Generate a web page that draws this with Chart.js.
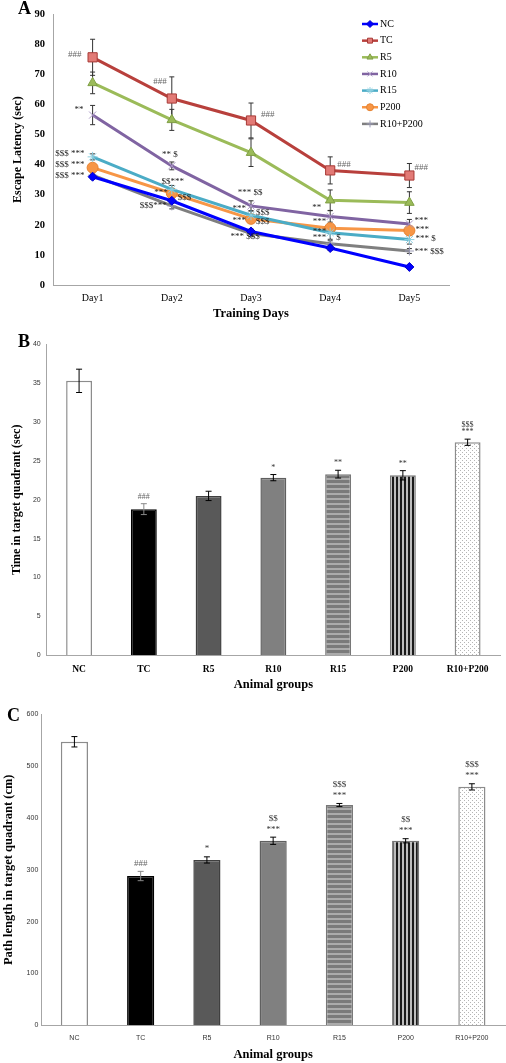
<!DOCTYPE html>
<html>
<head>
<meta charset="utf-8">
<title>Water maze results</title>
<script src="https://cdn.jsdelivr.net/npm/chart.js@4.4.1/dist/chart.umd.min.js"></script>
<style>
  body { margin: 0; background: #fff; }
  .panel { position: absolute; left: 0; }
</style>
</head>
<body>
<canvas id="chartA" class="panel" width="506" height="330" style="top:0px"></canvas>
<canvas id="chartB" class="panel" width="506" height="370" style="top:330px"></canvas>
<canvas id="chartC" class="panel" width="506" height="363" style="top:700px"></canvas>
<script>
// ---- panel A : escape latency over training days
const days = ['Day1', 'Day2', 'Day3', 'Day4', 'Day5'];
const seriesNames = ['NC', 'TC', 'R5', 'R10', 'R15', 'P200', 'R10+P200'];
const ncLat    = [36.0, 28.0, 17.8, 12.3, 6.0];
const tcLat    = [75.7, 62.0, 54.7, 38.1, 36.4];
const r5Lat    = [67.2, 54.9, 44.0, 28.2, 27.4];
const r10Lat   = [56.5, 39.6, 26.3, 22.8, 20.3];
const r15Lat   = [42.6, 31.8, 23.2, 17.4, 15.1];
const p200Lat  = [39.0, 30.5, 22.0, 18.9, 18.1];
const comboLat = [36.5, 26.3, 17.1, 13.7, 11.3];
// SEM
const ncErr    = [0.8, 0.8, 0.8, 0.8, 0.5];
const tcErr    = [6.0, 7.2, 5.8, 4.5, 4.0];
const r5Err    = [3.6, 3.5, 4.6, 3.4, 3.6];
const r10Err   = [3.2, 1.3, 1.7, 1.9, 1.5];
const r15Err   = [1.0, 1.3, 1.5, 2.2, 1.5];
const p200Err  = [1.2, 1.2, 1.2, 1.0, 1.0];
const comboErr = [0.8, 1.0, 1.0, 1.0, 0.8];
const latencyTicks = [0, 10, 20, 30, 40, 50, 60, 70, 80, 90];

// significance labels: [series, day, text, dx, dy, align]
const latencyMarks = [
  [1, 0, '###', -11, -3, 'right'],
  [3, 0, '**', -9, -5, 'right'],
  [4, 0, '$$$ ***', -8, -3, 'right'],
  [5, 0, '$$$ ***', -8, -3, 'right'],
  [6, 0, '$$$ ***', -8, 0, 'right'],
  [1, 1, '###', -5, -17, 'right'],
  [3, 1, '** $', -2, -11, 'center'],
  [4, 1, '$$***', 1, -8, 'center'],
  [5, 1, '***', -4, -1, 'right'],
  [5, 1, '$$$', 6, 4, 'left'],
  [6, 1, '$$$***', -5, 0, 'right'],
  [1, 2, '###', 10, -6, 'left'],
  [3, 2, '*** $$', -1, -13, 'center'],
  [4, 2, '***', -5, -7, 'right'],
  [4, 2, '$$$', 5, -3, 'left'],
  [5, 2, '***', -5, 2, 'right'],
  [5, 2, '$$$', 5, 3, 'left'],
  [6, 2, '*** $$$', -6, 3, 'center'],
  [1, 3, '###', 7, -6, 'left'],
  [3, 3, '**', -9, -9, 'right'],
  [5, 3, '***', -4, -7, 'right'],
  [4, 3, '***', -4, -1, 'right'],
  [6, 3, '***', -4, -6, 'right'],
  [6, 3, '$', 6, -6, 'left'],
  [1, 4, '###', 5, -8, 'left'],
  [3, 4, '***', 5, -3, 'left'],
  [5, 4, '***', 6, -1, 'left'],
  [4, 4, '*** $', 6, -1, 'left'],
  [6, 4, '*** $$$', 5, 1, 'left']
];

// ---- panels B and C : probe trial
const groups = ['NC', 'TC', 'R5', 'R10', 'R15', 'P200', 'R10+P200'];
const timeTarget = [35.3, 18.8, 20.5, 22.85, 23.3, 23.15, 27.4];
const timeErr    = [1.5, 0.7, 0.6, 0.4, 0.5, 0.6, 0.4];
const timeMarks  = [[], ['###'], [], ['*'], ['**'], ['**'], ['***', '$$$']];
const timeTicks  = [0, 5, 10, 15, 20, 25, 30, 35, 40];

const pathTarget = [547, 288, 319, 356, 425, 356, 460];
const pathErr    = [10, 9, 6, 7, 3, 4, 6];
const pathMarks  = [[], ['###'], ['*'], ['***', '$$'], ['***', '$$$'], ['***', '$$'], ['***', '$$$']];
const pathTicks  = [0, 100, 200, 300, 400, 500, 600];

const serif = '"Liberation Serif", "Times New Roman", serif';
const sans = '"Liberation Sans", Arial, sans-serif';

function panelLetter(letter, x, y) {
  return {
    id: 'letter' + letter,
    afterDraw(chart) {
      const ctx = chart.ctx;
      ctx.save();
      ctx.font = 'bold 18px ' + serif;
      ctx.fillStyle = '#000';
      ctx.textBaseline = 'alphabetic';
      ctx.fillText(letter, x, y);
      ctx.restore();
    }
  };
}

const latencyErrBars = {
  id: 'latencyErrBars',
  beforeDatasetsDraw(chart) {
    const ctx = chart.ctx;
    const ys = chart.scales.y;
    ctx.save();
    ctx.strokeStyle = '#333';
    ctx.lineWidth = 1;
    chart.data.datasets.forEach((ds, i) => {
      chart.getDatasetMeta(i).data.forEach((pt, j) => {
        const top = ys.getPixelForValue(ds.data[j] + ds.err[j]);
        const bot = ys.getPixelForValue(ds.data[j] - ds.err[j]);
        ctx.beginPath();
        ctx.moveTo(pt.x, top); ctx.lineTo(pt.x, bot);
        ctx.moveTo(pt.x - 2.5, top); ctx.lineTo(pt.x + 2.5, top);
        ctx.moveTo(pt.x - 2.5, bot); ctx.lineTo(pt.x + 2.5, bot);
        ctx.stroke();
      });
    });
    ctx.restore();
  },
  afterDatasetsDraw(chart) {
    const ctx = chart.ctx;
    ctx.save();
    ctx.font = '9px ' + serif;
    ctx.textBaseline = 'middle';
    latencyMarks.forEach(m => {
      const pt = chart.getDatasetMeta(m[0]).data[m[1]];
      ctx.fillStyle = m[2] === '###' ? '#666' : '#222';
      ctx.textAlign = m[5];
      ctx.fillText(m[2], pt.x + m[3], pt.y + m[4]);
    });
    ctx.restore();
  }
};

const legendA = {
  id: 'legendA',
  afterDraw(chart) {
    const ctx = chart.ctx;
    ctx.save();
    chart.data.datasets.forEach((ds, i) => {
      const y = 24 + i * 16.65;
      ctx.strokeStyle = ds.borderColor;
      ctx.lineWidth = 2.5;
      ctx.beginPath(); ctx.moveTo(362, y); ctx.lineTo(378, y); ctx.stroke();
      ctx.fillStyle = ds.pointBackgroundColor;
      ctx.strokeStyle = ds.pointBorderColor;
      ctx.lineWidth = 1;
      Chart.helpers.drawPoint(ctx, {pointStyle: ds.pointStyle, radius: 3.5, borderWidth: 1, rotation: 0}, 370, y);
      ctx.fillStyle = '#000';
      ctx.font = '10px ' + serif;
      ctx.textAlign = 'left';
      ctx.textBaseline = 'middle';
      ctx.fillText(ds.label, 380, y);
    });
    ctx.restore();
  }
};

function lineSet(i, data, err, color, style, fill, edge, radius) {
  return {
    label: seriesNames[i], data: data, err: err,
    borderColor: color, borderWidth: 3, tension: 0,
    pointStyle: style, pointRadius: radius, pointBackgroundColor: fill,
    pointBorderColor: edge, pointBorderWidth: 1
  };
}

new Chart(document.getElementById('chartA'), {
  type: 'line',
  data: {
    labels: days,
    datasets: [
      lineSet(0, ncLat, ncErr, '#0000FF', 'rectRot', '#0000FF', '#0000CC', 4.5),
      lineSet(1, tcLat, tcErr, '#B8403C', 'rect', '#E27A76', '#A83A36', 6.5),
      lineSet(2, r5Lat, r5Err, '#9BBB59', 'triangle', '#9BBB59', '#7F9F45', 5.5),
      lineSet(3, r10Lat, r10Err, '#8064A2', 'crossRot', '#A996C4', '#A996C4', 5),
      lineSet(4, r15Lat, r15Err, '#4BACC6', 'star', '#8DCFE0', '#8DCFE0', 5),
      lineSet(5, p200Lat, p200Err, '#F79646', 'circle', '#F79646', '#E58230', 5.5),
      lineSet(6, comboLat, comboErr, '#7F7F7F', 'cross', '#9A9AB4', '#9A9AB4', 4.5)
    ]
  },
  options: {
    responsive: false,
    animation: false,
    layout: { padding: { top: 11.7, right: 57, left: 0, bottom: 0 } },
    plugins: { legend: { display: false }, tooltip: { enabled: false } },
    scales: {
      x: {
        offset: true,
        grid: { display: false, drawTicks: false },
        border: { display: true, color: '#a6a6a6' },
        ticks: { color: '#000', font: { family: serif, size: 10 }, padding: 7 },
        title: { display: true, text: 'Training Days', color: '#000',
                 font: { family: serif, size: 12.5, weight: 'bold' }, padding: { top: 0, bottom: 9 } },
        afterFit: s => { s.height = 45; }
      },
      y: {
        min: 0, max: 90,
        afterBuildTicks: s => { s.ticks = latencyTicks.map(v => ({ value: v })); },
        grid: { display: false, drawTicks: false },
        border: { display: true, color: '#a6a6a6' },
        ticks: { color: '#000', font: { family: serif, size: 10.5, weight: 'bold' }, padding: 8 },
        title: { display: true, text: 'Escape Latency (sec)', color: '#000',
                 font: { family: serif, size: 12, weight: 'bold' }, padding: { top: 11, bottom: 0 } },
        afterFit: s => { s.width = 53; }
      }
    }
  },
  plugins: [latencyErrBars, legendA, panelLetter('A', 18, 14)]
});

// ---- bar fills
function makePattern(size, draw) {
  const c = document.createElement('canvas');
  c.width = size[0]; c.height = size[1];
  draw(c.getContext('2d'));
  return c.getContext('2d').createPattern(c, 'repeat');
}
const hStripes = makePattern([4, 5], g => {
  g.fillStyle = '#7a7a7a'; g.fillRect(0, 0, 4, 5);
  g.fillStyle = '#ababab'; g.fillRect(0, 3, 4, 2);
});
const vStripes = makePattern([4, 4], g => {
  g.fillStyle = '#bdbdbd'; g.fillRect(0, 0, 4, 4);
  g.fillStyle = '#1a1a1a'; g.fillRect(0, 0, 2, 4);
});
const dots = makePattern([4, 4], g => {
  g.fillStyle = '#fff'; g.fillRect(0, 0, 4, 4);
  g.fillStyle = '#b5b5b5'; g.fillRect(0, 0, 1, 1); g.fillRect(2, 2, 1, 1);
});
const barFills = ['#ffffff', '#000000', '#595959', '#808080', hStripes, vStripes, dots];
const barEdges = ['#8c8c8c', '#000000', '#3f3f3f', '#5f5f5f', '#777777', '#777777', '#8c8c8c'];

function barErrPlugin(id, errs, marks, gap, step, fontSize) {
  return {
    id: id,
    afterDatasetsDraw(chart) {
      const ctx = chart.ctx;
      const ys = chart.scales.y;
      const ds = chart.data.datasets[0];
      ctx.save();
      chart.getDatasetMeta(0).data.forEach((bar, j) => {
        const top = ys.getPixelForValue(ds.data[j] + errs[j]);
        const bot = ys.getPixelForValue(ds.data[j] - errs[j]);
        ctx.strokeStyle = j === 1 ? '#888' : '#000';
        ctx.lineWidth = 1;
        ctx.beginPath();
        ctx.moveTo(bar.x, top); ctx.lineTo(bar.x, bot);
        ctx.moveTo(bar.x - 3, top); ctx.lineTo(bar.x + 3, top);
        ctx.moveTo(bar.x - 3, bot); ctx.lineTo(bar.x + 3, bot);
        ctx.stroke();
        ctx.font = fontSize + 'px ' + serif;
        ctx.textAlign = 'center';
        ctx.textBaseline = 'middle';
        marks[j].forEach((t, k) => {
          ctx.fillStyle = t === '###' ? '#666' : '#333';
          ctx.fillText(t, bar.x, top - gap - k * step);
        });
      });
      ctx.restore();
    }
  };
}

function groupChart(id, values, errs, marks, ticks, cfg) {
  return new Chart(document.getElementById(id), {
    type: 'bar',
    data: {
      labels: groups,
      datasets: [{
        data: values,
        backgroundColor: barFills,
        borderColor: barEdges,
        borderWidth: 1.5,
        barPercentage: cfg.barPct,
        categoryPercentage: 1
      }]
    },
    options: {
      responsive: false,
      animation: false,
      layout: { padding: { top: 14.3, right: cfg.right, left: 0, bottom: 0 } },
      plugins: { legend: { display: false }, tooltip: { enabled: false } },
      scales: {
        x: {
          grid: { display: false, drawTicks: false },
          border: { display: true, color: '#a6a6a6' },
          ticks: { color: cfg.xTickColor, font: cfg.xTickFont, padding: 9 },
          title: { display: true, text: 'Animal groups', color: '#000',
                   font: { family: serif, size: 12.5, weight: 'bold' }, padding: { top: 0, bottom: cfg.xTitlePad } },
          afterFit: s => { s.height = cfg.xHeight; }
        },
        y: {
          min: ticks[0], max: ticks[ticks.length - 1],
          afterBuildTicks: s => { s.ticks = ticks.map(v => ({ value: v })); },
          grid: { display: false, drawTicks: false },
          border: { display: true, color: '#a6a6a6' },
          ticks: { color: '#333', font: { family: sans, size: 7 }, padding: cfg.yTickPad },
          title: { display: true, text: cfg.yTitle, color: '#000',
                   font: { family: serif, size: cfg.yTitleSize, weight: 'bold' }, padding: { top: cfg.yTitlePad, bottom: 0 } },
          afterFit: s => { s.width = cfg.yWidth; }
        }
      }
    },
    plugins: [barErrPlugin(id + 'Err', errs, marks, cfg.gap, cfg.step, cfg.markSize), panelLetter(cfg.letter, cfg.lx, cfg.ly)]
  });
}

groupChart('chartB', timeTarget, timeErr, timeMarks, timeTicks, {
  letter: 'B', lx: 18, ly: 17, right: 6, barPct: 0.4,
  xHeight: 44.7, yWidth: 46.7, yTickPad: 6,
  xTickColor: '#000', xTickFont: { family: serif, size: 9.5, weight: 'bold' },
  xTitlePad: 7.5, yTitle: 'Time in target quadrant (sec)', yTitleSize: 12, yTitlePad: 10,
  gap: 7, step: 7.5, markSize: 8
});

groupChart('chartC', pathTarget, pathErr, pathMarks, pathTicks, {
  letter: 'C', lx: 7, ly: 21, right: 1, barPct: 0.41,
  xHeight: 37.7, yWidth: 41.3, yTickPad: 3,
  xTickColor: '#333', xTickFont: { family: sans, size: 7 },
  xTitlePad: 0.5, yTitle: 'Path length in target quadrant (cm)', yTitleSize: 12.5, yTitlePad: 1.5,
  gap: 8, step: 11, markSize: 9
});
</script>
</body>
</html>
